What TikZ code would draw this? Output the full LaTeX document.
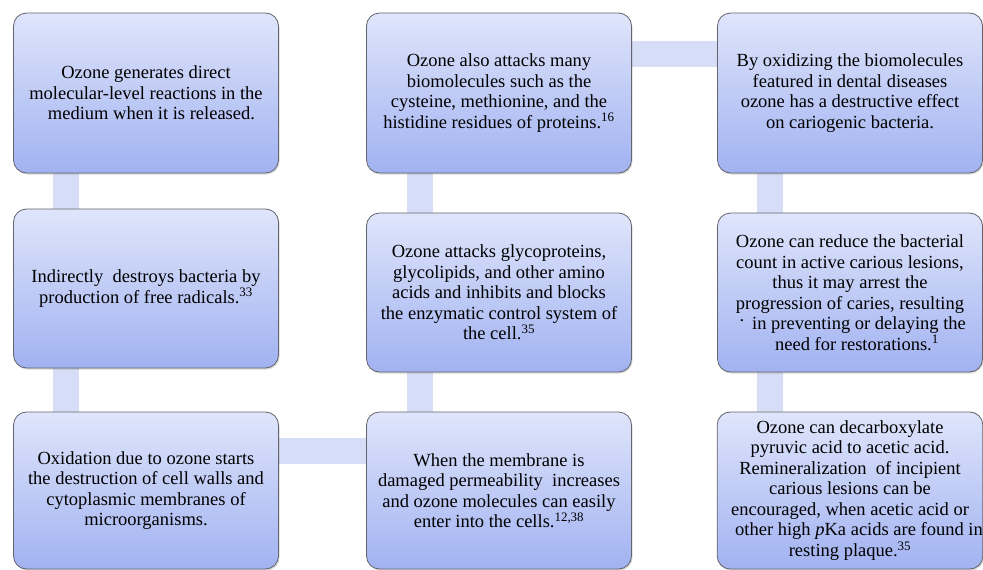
\documentclass[tikz,border=0pt]{standalone}
\usepackage{fontspec}
\setmainfont{Liberation Serif}
\usetikzlibrary{shadows, backgrounds}
\definecolor{boxtop}{RGB}{223,229,251}
\definecolor{boxbot}{RGB}{161,178,241}
\definecolor{boxline}{RGB}{100,100,108}
\definecolor{linkcol}{RGB}{214,221,247}

\begin{document}
\begin{tikzpicture}[x=1pt,y=-1pt,
	stage/.style={draw=boxline, line width=0.8pt, rounded corners=13pt, top color=boxtop, bottom color=boxbot, minimum width=265pt, inner sep=0pt, align=center, font=\fontsize{18.5}{20.5}\selectfont, drop shadow={opacity=0.3, shadow xshift=1pt, shadow yshift=-1.5pt}},
	link/.style={line width=26pt, draw=linkcol}]
		\useasboundingbox (0,0) rectangle (983,570);
		\node[stage, minimum height=160pt] (o1) at (146,93) {Ozone generates direct\\molecular-level reactions in the\\\hspace*{11pt}medium when it is released.}; %1
		\node[stage, minimum height=159pt] (o2) at (146,288.5) {Indirectly~ destroys bacteria by\\production of free radicals.\textsuperscript{33}}; %2
		\node[stage, minimum height=157pt] (o3) at (146,490.5) {Oxidation due to ozone starts\\the destruction of cell walls and\\cytoplasmic membranes of\\microorganisms.}; %3
		\node[stage, minimum height=157pt] (o4) at (499,490.5) {When the membrane is\\damaged permeability~ increases\\and ozone molecules can easily\\enter into the cells.\textsuperscript{12,38}}; %4
		\node[stage, minimum height=159pt] (o5) at (499,292.5) {Ozone attacks glycoproteins,\\glycolipids, and other amino\\acids and inhibits and blocks\\the enzymatic control system of\\the cell.\textsuperscript{35}}; %5
		\node[stage, minimum height=160pt] (o6) at (499,93) {Ozone also attacks many\\biomolecules such as the\\cysteine, methionine, and the\\histidine residues of proteins.\textsuperscript{16}}; %6
		\node[stage, minimum height=160pt] (o7) at (850,93) {By oxidizing the biomolecules\\featured in dental diseases\\ozone has a destructive effect\\on cariogenic bacteria.}; %7
		\node[stage, minimum height=159pt] (o8) at (850,292.5) {Ozone can reduce the bacterial\\count in active carious lesions,\\thus it may arrest the\\progression of caries, resulting\\\hspace*{18pt}\llap{\raisebox{8pt}{.}\hspace{8pt}}in preventing or delaying the\\\hspace*{14pt}need for restorations.\textsuperscript{1}}; %8
		\node[stage, minimum height=157pt] (o9) at (850,490.5) {Ozone can decarboxylate\\pyruvic acid to acetic acid.\\Remineralization~ of incipient\\carious lesions can be\\encouraged, when acetic acid or\\\hspace*{18pt}other high \textit{p}Ka acids are found in\\resting plaque.\textsuperscript{35}}; %9
		\begin{scope}[on background layer]
			\draw[link] ([xshift=53pt]o1.south west)--([xshift=53pt]o2.north west); %1-2
			\draw[link] ([xshift=53pt]o2.south west)--([xshift=53pt]o3.north west); %2-3
			\draw[link] ([yshift=-39.5pt]o3.north east)--([yshift=-39.5pt]o4.north west); %3-4
			\draw[link] ([xshift=54pt]o4.north west)--([xshift=54pt]o5.south west); %4-5
			\draw[link] ([xshift=54pt]o5.north west)--([xshift=54pt]o6.south west); %5-6
			\draw[link] ([yshift=-41.5pt]o6.north east)--([yshift=-41.5pt]o7.north west); %6-7
			\draw[link] ([xshift=53pt]o7.south west)--([xshift=53pt]o8.north west); %7-8
			\draw[link] ([xshift=53pt]o8.south west)--([xshift=53pt]o9.north west); %8-9
		\end{scope}
	\end{tikzpicture}
\end{document}
